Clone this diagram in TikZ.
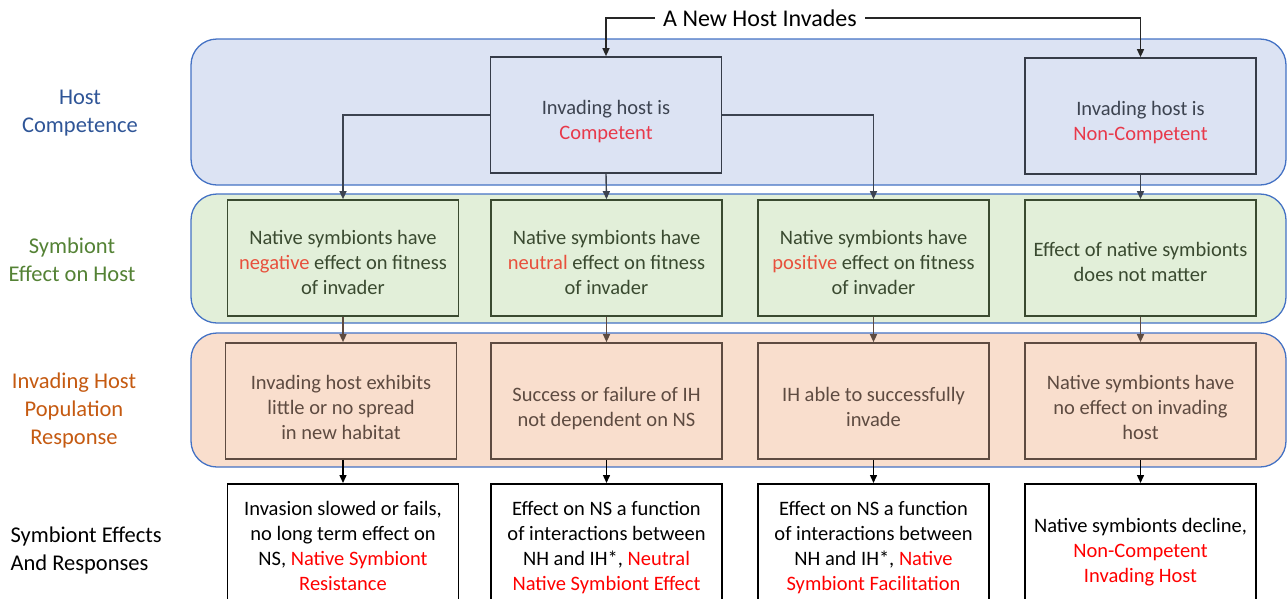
\documentclass[tikz,border=0pt]{standalone}
\usepackage{fontspec}
\setmainfont{Carlito}
\usetikzlibrary{arrows.meta}
\definecolor{bandline}{HTML}{4472C4}
\definecolor{bluefill}{HTML}{DCE3F3}
\definecolor{greenfill}{HTML}{E2EFD9}
\definecolor{orangefill}{HTML}{F9DECD}
\definecolor{bluetxt}{HTML}{3C4350}
\definecolor{greentxt}{HTML}{3A4A30}
\definecolor{orangetxt}{HTML}{5E4B41}
\definecolor{redA}{HTML}{E8394B}
\definecolor{redB}{HTML}{E8503C}
\definecolor{labblue}{HTML}{2F5597}
\definecolor{labgreen}{HTML}{548235}
\definecolor{laborange}{HTML}{C55A11}
\tikzset{
  band/.style={draw=bandline, line width=1.3pt, rounded corners=26pt},
  cbox/.style={draw, line width=1.7pt, minimum width=231pt, minimum height=116pt, font=\fontsize{20.5}{25}\selectfont, inner sep=0pt},
  bluebox/.style={cbox, draw=bluetxt!90!black, text=bluetxt},
  greenbox/.style={cbox, draw=greentxt, text=greentxt},
  orangebox/.style={cbox, draw=orangetxt, text=orangetxt},
  resbox/.style={cbox, draw=black, text=black, minimum height=128pt},
  lab/.style={align=center, font=\fontsize{22.5}{28}\selectfont},
  conn/.style={line width=1.4pt, -{Triangle[length=8pt,width=7pt]}},
}
\newcommand{\rd}[1]{\textcolor{red}{#1}}
\newcommand{\tx}[2]{\begin{tabular}{@{}c@{}}\rule{0pt}{#1}#2\end{tabular}}
\begin{document}
\begin{tikzpicture}[x=1pt,y=-1pt]
\useasboundingbox (0,0) rectangle (1287,598);
% bands
\draw[band, fill=bluefill] (191,39) rectangle (1286,185);
\draw[band, fill=greenfill] (191,194) rectangle (1286,323);
\draw[band, fill=orangefill] (191,333) rectangle (1286,467);
% labels
\node[lab, text=labblue] (l1) at (80,113) {Host\\Competence};
\node[lab, text=labgreen] (l2) at (72,260) {Symbiont\\Effect on Host};
\node[lab, text=laborange] (l3) at (74,410) {Invading Host\\Population\\Response};
\node[lab, align=left, anchor=west] (l4) at (7,550) {Symbiont Effects\\And Responses};
% top
\node[font=\fontsize{24}{28}\selectfont, inner xsep=8pt] (top) at (760,18) {A New Host Invades};
% blue row
\node[bluebox] (c) at (606,115) {\tx{31.5pt}{Invading host is\\\textcolor{redA}{Competent}}};
\node[bluebox] (nc) at (1140.5,116) {\tx{31.5pt}{Invading host is\\\textcolor{redA}{Non-Competent}}};
% green row
\node[greenbox] (g1) at (343,258) {\tx{29.5pt}{Native symbionts have\\\textcolor{redB}{negative} effect on fitness\\of invader}};
\node[greenbox] (g2) at (606.5,258) {\tx{29.5pt}{Native symbionts have\\\textcolor{redB}{neutral} effect on fitness\\of invader}};
\node[greenbox] (g3) at (873.5,258) {\tx{29.5pt}{Native symbionts have\\\textcolor{redB}{positive} effect on fitness\\of invader}};
\node[greenbox] (g4) at (1140.5,258) {\tx{29.5pt}{Effect of native symbionts\\does not matter}};
% orange row
\node[orangebox] (o1) at (341,401) {\tx{33.5pt}{Invading host exhibits\\little or no spread\\in new habitat}};
\node[orangebox] (o2) at (606.5,401) {\tx{33.5pt}{Success or failure of IH\\not dependent on NS}};
\node[orangebox] (o3) at (873.5,401) {\tx{33.5pt}{IH able to successfully\\invade}};
\node[orangebox] (o4) at (1140.5,401) {\tx{33.5pt}{Native symbionts have\\no effect on invading\\host}};
% result row
\node[resbox, anchor=north] (r1) at (343,483) {\tx{18.5pt}{Invasion slowed or fails,\\no long term effect on\\NS, \rd{Native Symbiont}\\\rd{Resistance}}};
\node[resbox, anchor=north] (r2) at (606.5,483) {\tx{18.5pt}{Effect on NS a function\\of interactions between\\NH and IH*, \rd{Neutral}\\\rd{Native Symbiont Effect}}};
\node[resbox, anchor=north] (r3) at (873.5,483) {\tx{18.5pt}{Effect on NS a function\\of interactions between\\NH and IH*, \rd{Native}\\\rd{Symbiont Facilitation}}};
\node[resbox, anchor=north] (r4) at (1140.5,483) {\tx{27.5pt}{Native symbionts decline,\\\rd{Non-Competent}\\\rd{Invading Host}}};
% connectors
\draw[conn, draw=black!85] (top.west) -| (c.north);
\draw[conn, draw=black!85] (top.east) -| (nc.north);
\draw[conn, draw=bluetxt] (c.west) -| (g1.north);
\draw[conn, draw=bluetxt] (c.south) -- (g2.north);
\draw[conn, draw=bluetxt] (c.east) -| (g3.north);
\draw[conn, draw=bluetxt] (nc.south) -- (g4.north);
\foreach \i in {1,2,3,4}{
  \draw[conn, draw=orangetxt] (g\i.south) -- (o\i.north -| g\i.south);
  \draw[conn, draw=black] (o\i.south -| r\i.north) -- (r\i.north);
}
\end{tikzpicture}
\end{document}
